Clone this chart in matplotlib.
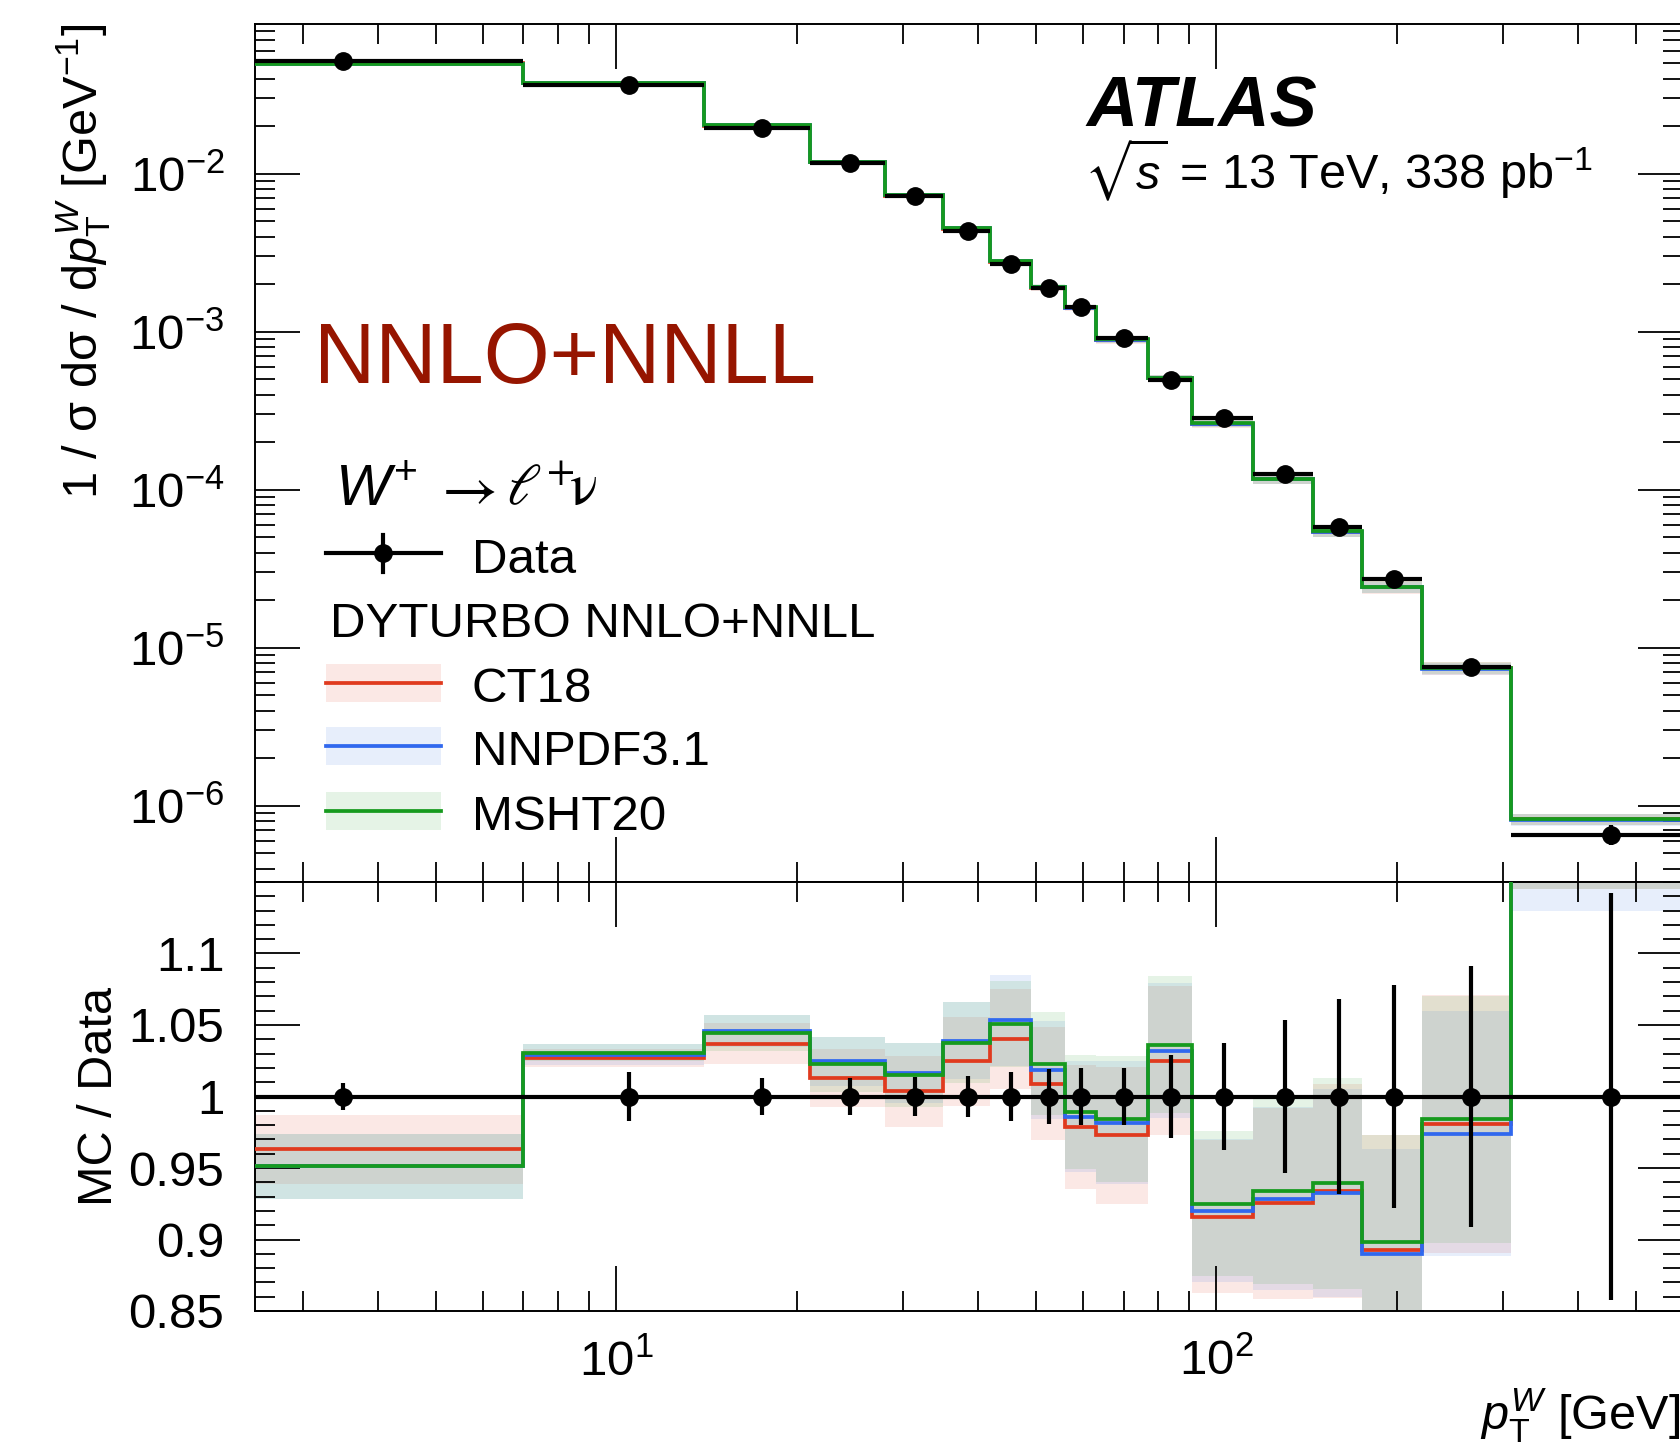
import numpy as np
import matplotlib
matplotlib.use('Agg')
import matplotlib.pyplot as plt
from matplotlib.ticker import LogLocator, FixedLocator, MultipleLocator, FuncFormatter, NullFormatter
from matplotlib.patches import Rectangle
from matplotlib.lines import Line2D

plt.rcParams['font.family'] = ['Liberation Sans', 'DejaVu Sans']
plt.rcParams['mathtext.fontset'] = 'custom'
plt.rcParams['mathtext.rm'] = 'Liberation Sans'
plt.rcParams['mathtext.it'] = 'Liberation Sans:italic'
plt.rcParams['mathtext.bf'] = 'Liberation Sans:bold'
plt.rcParams['mathtext.fallback'] = 'stixsans'

# ---------------- data ----------------
bin_edges = [0, 7, 14, 21, 28, 35, 42, 49, 56, 63, 77, 91, 115, 145, 175, 220, 310, 600]
data_values = [0.0517, 0.0364, 0.0194, 0.01164, 0.00722, 0.00434, 0.00267, 0.00188,
               0.00144, 9.08e-4, 4.94e-4, 2.85e-4, 1.26e-4, 5.83e-5, 2.71e-5, 7.59e-6, 6.59e-7]
data_rel_err = [0.0095, 0.0171, 0.0127, 0.0127, 0.0135, 0.014, 0.0172, 0.019, 0.0196,
                0.0201, 0.0293, 0.0374, 0.0537, 0.0684, 0.078, 0.0916, 0.1423]

ratio_ct18 = [0.9632, 1.027, 1.037, 1.013, 1.0037, 1.0247, 1.0403, 1.0088, 0.9786,
              0.9728, 1.0251, 0.9160, 0.9255, 0.934, 0.893, 0.9809, 1.25]
ratio_nnpdf = [0.9511, 1.0293, 1.0459, 1.0247, 1.0165, 1.0389, 1.0533, 1.0186, 0.986,
               0.9816, 1.0321, 0.9201, 0.9284, 0.9325, 0.8901, 0.974, 1.24]
ratio_msht = [0.9511, 1.0307, 1.0445, 1.0226, 1.0149, 1.0375, 1.0507, 1.0228, 0.9891,
              0.9844, 1.0363, 0.9251, 0.9338, 0.9392, 0.8983, 0.984, 1.245]

unc_ct18 = [0.0242, 0.0065, 0.0142, 0.020, 0.0247, 0.031, 0.0349, 0.0395, 0.0436,
            0.0478, 0.0523, 0.0535, 0.0668, 0.075, 0.080, 0.090, 0.105]
unc_nnpdf = [0.023, 0.0075, 0.0114, 0.0172, 0.0207, 0.027, 0.0317, 0.034, 0.039,
             0.043, 0.047, 0.050, 0.064, 0.073, 0.0734, 0.0855, 0.11]
unc_msht = [0.023, 0.006, 0.0128, 0.0193, 0.0223, 0.0284, 0.030, 0.036, 0.040,
            0.0442, 0.048, 0.0508, 0.065, 0.0735, 0.0745, 0.0866, 0.10]

model_names = ['CT18', 'NNPDF3.1', 'MSHT20']
ratio_ticks = [0.85, 0.9, 0.95, 1.0, 1.05, 1.1]

# ---------------- style ----------------
line_colors = ['#e03a1e', '#3068ee', '#169a1e']
band_colors = ['#e6482f', '#3f7ae6', '#2fa337']
band_alpha = 0.12
text_red = '#961500'

W, H = 1681, 1442
DPI = 100
fig = plt.figure(figsize=(W / DPI, H / DPI), dpi=DPI)


def fx(px):
    return px / W


def fy(py):
    return 1 - py / H


L, R = 255, 1683.5
T1, B1, B2 = 24, 882, 1311
ax1 = fig.add_axes([fx(L), fy(B1), fx(R) - fx(L), (B1 - T1) / H])
ax2 = fig.add_axes([fx(L), fy(B2), fx(R) - fx(L), (B2 - B1) / H], sharex=ax1)

edges = np.array(bin_edges, dtype=float)
centers = 0.5 * (edges[:-1] + edges[1:])
halfw = 0.5 * (edges[1:] - edges[:-1])
data = np.array(data_values)
rel = np.array(data_rel_err)
ratios = [np.array(ratio_ct18), np.array(ratio_nnpdf), np.array(ratio_msht)]
uncs = [np.array(unc_ct18), np.array(unc_nnpdf), np.array(unc_msht)]

LW = 2.7
ELW = 3.0
MS = 12.5
# ---------------- top panel ----------------
for r, u, bc in zip(ratios, uncs, band_colors):
    ax1.stairs(data * (r + u), edges, baseline=data * (r - u), fill=True,
               color=bc, alpha=band_alpha, lw=0, zorder=1)
for r, lc in zip(ratios, line_colors):
    ax1.stairs(data * r, edges, baseline=None, color=lc, lw=LW, zorder=3)
ax1.errorbar(centers, data, xerr=halfw, yerr=data * rel, fmt='o', color='k',
             ms=MS, elinewidth=ELW, capsize=0, zorder=5)

# ---------------- ratio panel ----------------
for r, u, bc in zip(ratios, uncs, band_colors):
    ax2.stairs(r + u, edges, baseline=r - u, fill=True,
               color=bc, alpha=band_alpha, lw=0, zorder=1)
for r, lc in zip(ratios, line_colors):
    ax2.stairs(r, edges, baseline=None, color=lc, lw=LW, zorder=3)
ax2.errorbar(centers, np.ones_like(data), xerr=halfw, yerr=rel, fmt='o', color='k',
             ms=MS, elinewidth=ELW, capsize=0, zorder=5)

# ---------------- axes ----------------
TICK_FS = 35.5
for ax in (ax1, ax2):
    ax.set_xscale('log')
    ax.set_xlim(2.5, 600)
    ax.xaxis.set_major_locator(LogLocator(base=10, numticks=10))
    ax.xaxis.set_minor_locator(LogLocator(base=10, subs=np.arange(2, 10), numticks=30))
    ax.tick_params(which='both', direction='in', top=True, right=True, width=1.3,
                   color='k', labelsize=TICK_FS)
    ax.tick_params(which='major', length=32.5)
    ax.tick_params(which='minor', length=14.4)
    ax.tick_params(axis='y', which='major', pad=22)
    ax.tick_params(axis='x', which='major', pad=20)
    for s in ax.spines.values():
        s.set_linewidth(1.4)

ax1.set_yscale('log')
ax1.set_ylim(3.3e-7, 0.0885)
ax1.yaxis.set_major_locator(LogLocator(base=10, numticks=20))
ax1.yaxis.set_minor_locator(LogLocator(base=10, subs=np.arange(2, 10), numticks=40))
ax1.yaxis.set_minor_formatter(NullFormatter())
ax1.tick_params(labelbottom=False)

ax2.set_ylim(0.85, 1.15)
ax2.yaxis.set_major_locator(FixedLocator(ratio_ticks))
ax2.yaxis.set_minor_locator(MultipleLocator(0.01))
ax2.yaxis.set_major_formatter(FuncFormatter(lambda v, p: f'{v:g}'))
ax2.xaxis.set_minor_formatter(NullFormatter())

# axis titles
ax1.set_ylabel(r'1 / σ dσ / d$p_{\mathrm{T}}^{W}$ [GeV$^{-1}$]', fontsize=35, loc='top')
ax1.yaxis.label.set_verticalalignment('baseline')
ax1.yaxis.set_label_coords(fx(98), fy(24), transform=fig.transFigure)

ax2.set_ylabel('MC / Data', fontsize=35)
ax2.yaxis.label.set_verticalalignment('baseline')
ax2.yaxis.label.set_horizontalalignment('center')
ax2.yaxis.set_label_coords(fx(112), fy(1096), transform=fig.transFigure)

ax2.set_xlabel(r'$p_{\mathrm{T}}^{W}$ [GeV]', fontsize=35, loc='right')
ax2.xaxis.label.set_verticalalignment('baseline')
ax2.xaxis.set_label_coords(fx(1680), fy(1430), transform=fig.transFigure)

# ---------------- annotations ----------------
fig.text(fx(1086), fy(126.5), 'ATLAS', fontsize=51, fontweight='bold', fontstyle='italic',
         va='baseline', ha='left')
fig.text(fx(1084), fy(189), r'$\sqrt{s}$ = 13 TeV, 338 pb$^{-1}$', fontsize=35,
         va='baseline', ha='left')
fig.text(fx(314), fy(382.7), 'NNLO+NNLL', fontsize=61, color=text_red,
         va='baseline', ha='left')

# legend (manual)
fig.text(fx(335), fy(505), r'$W^{+}$', fontsize=42, va='baseline', ha='left')
fig.text(fx(433), fy(505), r'$\rightarrow$', fontsize=44, va='baseline', ha='left',
         math_fontfamily='stix')
fig.text(fx(506), fy(505), r'$\ell^{+}\!\mathrm{\nu}$', fontsize=42, va='baseline', ha='left',
         math_fontfamily='stix')
fig.add_artist(Line2D([fx(326), fx(441)], [fy(553), fy(553)], color='k', lw=ELW,
                      transform=fig.transFigure))
fig.add_artist(Line2D([fx(383.5), fx(383.5)], [fy(535), fy(572)], color='k', lw=ELW,
                      transform=fig.transFigure))
fig.add_artist(Line2D([fx(383.5)], [fy(553)], color='k', marker='o', ms=MS, lw=0,
                      transform=fig.transFigure))
fig.text(fx(472), fy(573), 'Data', fontsize=35.5, va='baseline', ha='left')
fig.text(fx(330), fy(637), 'DYTURBO NNLO+NNLL', fontsize=35.5, va='baseline', ha='left')

row_base = [702, 765, 830]
for name, bc, lc, yb in zip(model_names, band_colors, line_colors, row_base):
    fig.add_artist(Rectangle((fx(326), fy(yb)), fx(441) - fx(326), 38.5 / H,
                             facecolor=bc, alpha=band_alpha, lw=0,
                             transform=fig.transFigure))
    fig.add_artist(Line2D([fx(326), fx(441)], [fy(yb - 19.5), fy(yb - 19.5)], color=lc,
                          lw=LW, transform=fig.transFigure))
    fig.text(fx(472), fy(yb), name, fontsize=35.5, va='baseline', ha='left')

fig.savefig('out.png', dpi=DPI)
